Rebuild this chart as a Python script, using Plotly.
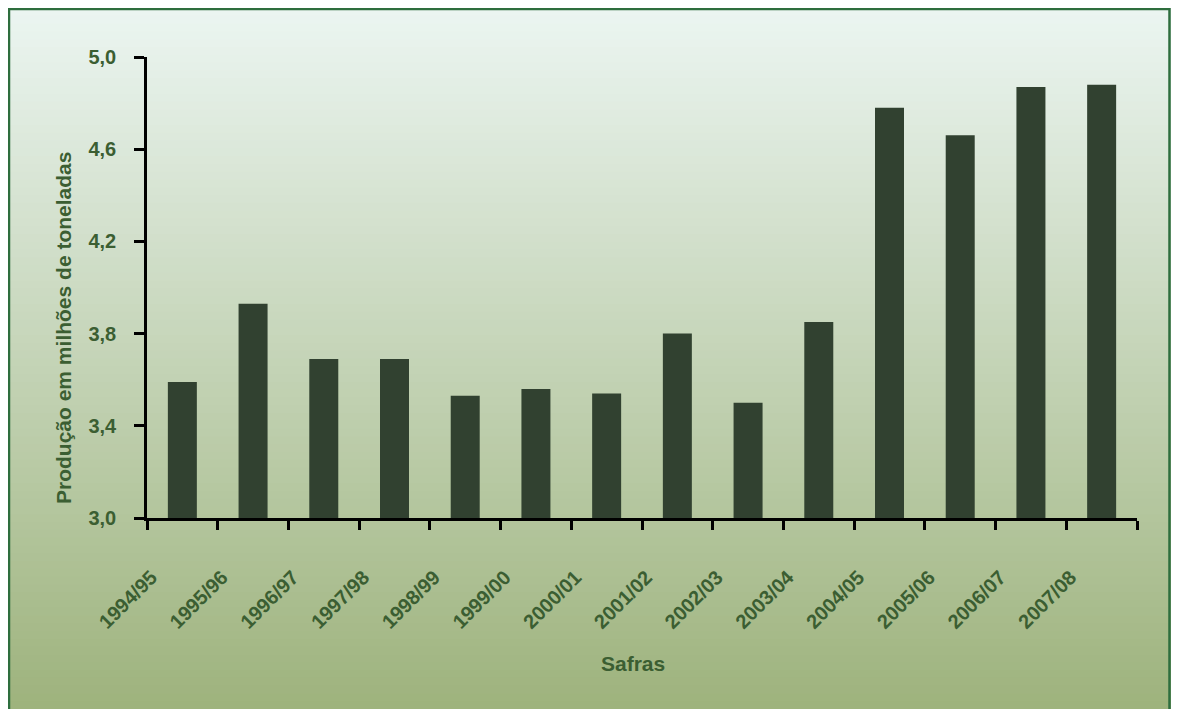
import plotly.graph_objects as go

safras = ["1994/95", "1995/96", "1996/97", "1997/98", "1998/99", "1999/00", "2000/01",
          "2001/02", "2002/03", "2003/04", "2004/05", "2005/06", "2006/07", "2007/08"]
producao = [3.59, 3.93, 3.69, 3.69, 3.53, 3.56, 3.54, 3.80, 3.50, 3.85, 4.78, 4.66, 4.87, 4.88]
y_ticks = [3.0, 3.4, 3.8, 4.2, 4.6, 5.0]

# page has an 8px body margin; figure origin sits at page (8, 8)
OFF = 8
W, H = 1163, 701
L, R, T, B = 139, 34, 49, 191
pw, ph = W - L - R, H - T - B

def px2paper_x(x):  # x in page pixels
    return (x - OFF - L) / pw

def px2paper_y(y):  # y in page pixels
    return (H - B - (y - OFF)) / ph

text_color = "#3b5e32"
bar_color = "#314130"
FONT = "Liberation Sans, Arial, sans-serif"

fig = go.Figure(go.Bar(x=safras, y=producao, marker_color=bar_color, marker_line_width=0,
                       width=0.41))

# gradient background
top = (0xeb, 0xf5, 0xf1)
bot = (0x9e, 0xb3, 0x7d)
n = 90
y0, y1 = 8, 8 + H
shapes = []
for i in range(n):
    t = i / (n - 1)
    c = tuple(round(top[k] + (bot[k] - top[k]) * t) for k in range(3))
    ya = y0 + (y1 - y0) * i / n
    yb = y0 + (y1 - y0) * (i + 1) / n + 1
    shapes.append(dict(type="rect", xref="paper", yref="paper", layer="below",
                       x0=px2paper_x(8), x1=px2paper_x(8 + W),
                       y0=px2paper_y(yb), y1=px2paper_y(ya),
                       fillcolor="rgb(%d,%d,%d)" % c, line_width=0))
shapes.append(dict(type="rect", xref="paper", yref="paper", layer="above",
                   x0=px2paper_x(9), x1=px2paper_x(8 + W - 1.5),
                   y0=px2paper_y(8 + H + 5), y1=px2paper_y(9),
                   line=dict(color="#2e6e3e", width=2.5), fillcolor="rgba(0,0,0,0)"))

fig.update_layout(
    width=W, height=H,
    margin=dict(l=L, r=R, t=T, b=B, pad=0),
    paper_bgcolor="white", plot_bgcolor="rgba(0,0,0,0)",
    separators=",.",
    showlegend=False,
    shapes=shapes,
    font=dict(family=FONT, color=text_color),
    xaxis=dict(showline=True, linecolor="black", linewidth=2.5, ticks="outside",
               tickson="boundaries", ticklen=9, tickwidth=2.5, tickcolor="black",
               tickangle=-45, tickfont=dict(size=20, color=text_color, family=FONT, weight="bold"),
               showgrid=False, zeroline=False, ticklabelstandoff=37, ticklabelshift=-31),
    yaxis=dict(range=[3.0, 5.0], tickvals=y_ticks, tickformat=".1f", showline=True,
               linecolor="black", linewidth=2.5, ticks="outside", ticklen=10, tickwidth=2.5,
               tickcolor="black", showgrid=False, zeroline=False, ticklabelstandoff=14,
               tickfont=dict(size=20, color=text_color, family=FONT, weight="bold")),
    annotations=[
        dict(text="<b>Safras</b>", xref="paper", yref="paper", x=px2paper_x(633), y=px2paper_y(663),
             xanchor="center", yanchor="middle",
             showarrow=False, font=dict(size=21, color=text_color, family=FONT)),
        dict(text="<b>Produção em milhões de toneladas</b>", xref="paper", yref="paper",
             x=px2paper_x(63), y=px2paper_y(328), textangle=-90,
             xanchor="center", yanchor="middle",
             showarrow=False, font=dict(size=21, color=text_color, family=FONT)),
    ],
)

fig.write_html("out.html")
